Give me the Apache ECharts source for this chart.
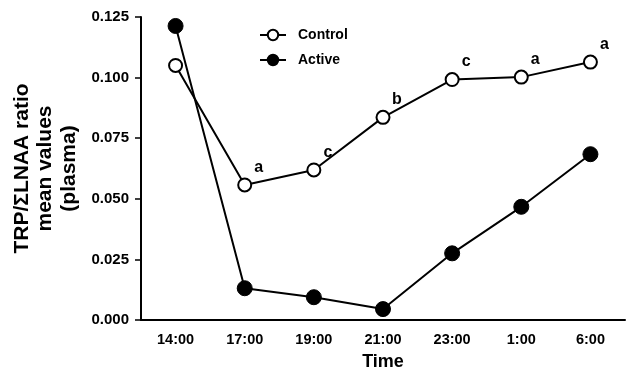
<!DOCTYPE html>
<html><head><meta charset="utf-8">
<script src="https://cdn.jsdelivr.net/npm/echarts@6/dist/echarts.min.js"></script>
<style>html,body{margin:0;padding:0;background:#fff}#c{width:641px;height:376px}</style>
</head><body><div id="c"></div>
<script>
var categories = ['14:00','17:00','19:00','21:00','23:00','1:00','6:00'];
var controlValues = [0.105, 0.0557, 0.0619, 0.0836, 0.0992, 0.1002, 0.1064];
var activeValues = [0.1213, 0.0131, 0.0094, 0.0045, 0.0275, 0.0467, 0.0684];
var controlLetters = ['', 'a', 'c', 'b', 'c', 'a', 'a'];

var FONT = 'Liberation Sans, Arial, Helvetica, sans-serif';
var chart = echarts.init(document.getElementById('c'));
chart.setOption({
  animation: false,
  backgroundColor: '#fff',
  grid: {left: 141, right: 16, top: 17, bottom: 54},
  legend: {
    left: 254, top: 23, orient: 'vertical', itemGap: 11, itemWidth: 26, itemHeight: 13,
    textStyle: {fontFamily: FONT, fontSize: 14, fontWeight: 'bold', color: '#000', padding: [0, 0, 0, 7]},
    data: ['Control', 'Active']
  },
  xAxis: {
    type: 'category', data: categories, boundaryGap: true,
    name: 'Time', nameLocation: 'middle', nameGap: 33,
    nameTextStyle: {fontFamily: FONT, fontSize: 18, fontWeight: 'bold', color: '#000'},
    axisLine: {lineStyle: {color: '#000', width: 2}},
    axisTick: {alignWithLabel: true, length: 5, lineStyle: {color: '#000', width: 1.5}},
    axisLabel: {fontFamily: FONT, fontSize: 14.5, fontWeight: 'bold', color: '#000', margin: 12}
  },
  yAxis: {
    type: 'value', min: 0, max: 0.125, interval: 0.025,
    name: 'TRP/\u03A3LNAA ratio\nmean values\n(plasma)', nameLocation: 'middle', nameGap: 59,
    nameTextStyle: {fontFamily: FONT, fontSize: 21, fontWeight: 'bold', color: '#000', lineHeight: 23.5},
    axisLine: {show: true, lineStyle: {color: '#000', width: 2}},
    axisTick: {show: true, length: 6, lineStyle: {color: '#000', width: 1.5}},
    splitLine: {show: false},
    axisLabel: {fontFamily: FONT, fontSize: 15, fontWeight: 'bold', color: '#000', margin: 12,
      formatter: function(v){ return v.toFixed(3); }}
  },
  series: [
    {
      name: 'Control', type: 'line', data: controlValues,
      symbol: 'circle', symbolSize: 13,
      lineStyle: {color: '#000', width: 2},
      itemStyle: {color: '#fff', borderColor: '#000', borderWidth: 2},
      label: {show: true, position: 'top', offset: [14, 3], fontFamily: FONT, fontSize: 16, fontWeight: 'bold', color: '#000',
        formatter: function(p){ return controlLetters[p.dataIndex]; }},
      z: 3
    },
    {
      name: 'Active', type: 'line', data: activeValues,
      symbol: 'circle', symbolSize: 15,
      lineStyle: {color: '#000', width: 2},
      itemStyle: {color: '#000', borderColor: '#000', borderWidth: 1},
      z: 2
    }
  ]
});
</script></body></html>
